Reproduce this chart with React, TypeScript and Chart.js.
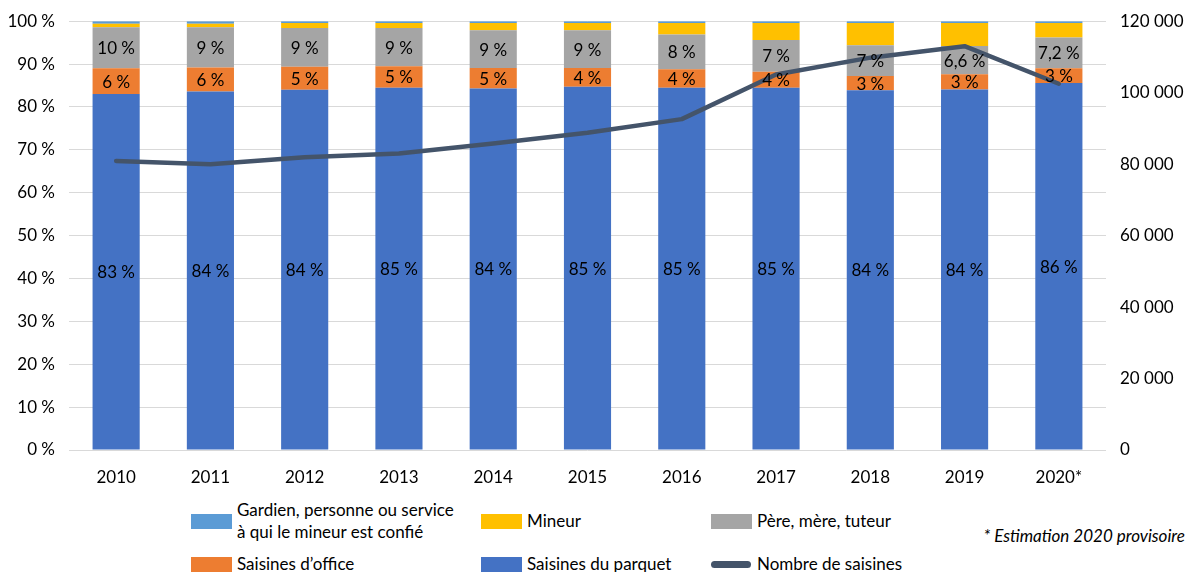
import React, { useEffect, useRef } from "react";
import { Chart, registerables } from "chart.js";

Chart.register(...registerables);

const years = ["2010", "2011", "2012", "2013", "2014", "2015", "2016", "2017", "2018", "2019", "2020*"];

// Percent shares (stack bottom to top)
const parquet = [83.0, 83.6, 84.0, 84.5, 84.3, 84.7, 84.5, 84.5, 83.9, 84.1, 85.6];
const office = [6.0, 5.6, 5.4, 5.0, 4.8, 4.4, 4.3, 3.7, 3.3, 3.5, 3.4];
const parents = [9.6, 9.4, 9.0, 8.9, 8.8, 8.8, 8.1, 7.4, 7.2, 6.6, 7.2];
const mineur = [0.8, 0.8, 1.2, 1.2, 1.7, 1.7, 2.7, 4.0, 5.2, 5.4, 3.4];
const gardien = [0.6, 0.6, 0.4, 0.4, 0.4, 0.4, 0.4, 0.4, 0.4, 0.4, 0.4];

// Number of referrals (right axis)
const saisines = [80900, 80000, 81900, 83000, 85800, 88800, 92600, 105100, 109800, 113000, 102500];

// Data label texts
const parquetLabels = ["83 %", "84 %", "84 %", "85 %", "84 %", "85 %", "85 %", "85 %", "84 %", "84 %", "86 %"];
const officeLabels = ["6 %", "6 %", "5 %", "5 %", "5 %", "4 %", "4 %", "4 %", "3 %", "3 %", "3 %"];
const parentsLabels = ["10 %", "9 %", "9 %", "9 %", "9 %", "9 %", "8 %", "7 %", "7 %", "6,6 %", "7,2 %"];

const leftTicks = [0, 10, 20, 30, 40, 50, 60, 70, 80, 90, 100];
const rightTicks = [0, 20000, 40000, 60000, 80000, 100000, 120000];

const C_GARDIEN = "#5B9BD5";
const C_MINEUR = "#FFC000";
const C_PARENTS = "#A5A5A5";
const C_OFFICE = "#ED7D31";
const C_PARQUET = "#4472C4";
const C_LINE = "#44546A";

const FONT = "Lato, 'Noto Sans', sans-serif";
const FS = 17;

const fmtThousands = (v: number) => {
  const s = String(Math.round(v));
  return s.replace(/\B(?=(\d{3})+(?!\d))/g, " ");
};

const labelPlugin = {
  id: "segLabels",
  afterDatasetsDraw(chart: any) {
    const ctx = chart.ctx;
    ctx.save();
    ctx.font = `${FS}px ${FONT}`;
    ctx.fillStyle = "#000";
    ctx.textAlign = "center";
    ctx.textBaseline = "middle";
    chart.data.datasets.forEach((ds: any, di: number) => {
      if (!ds.segLabels) return;
      const meta = chart.getDatasetMeta(di);
      meta.data.forEach((el: any, i: number) => {
        const t = ds.segLabels[i];
        if (!t) return;
        const cy = (el.y + el.base) / 2;
        ctx.fillText(t, el.x, cy + 1);
      });
    });
    ctx.restore();
  },
};

function ChartView() {
  const ref = useRef<HTMLCanvasElement | null>(null);
  useEffect(() => {
    if (!ref.current) return;
    const barCommon = {
      type: "bar" as const,
      stack: "s",
      yAxisID: "y",
      order: 1,
      barPercentage: 0.5,
      categoryPercentage: 1,
      borderWidth: 0,
    };
    const chart = new Chart(ref.current, {
      type: "bar",
      data: {
        labels: years,
        datasets: [
          { ...barCommon, label: "Saisines du parquet", data: parquet, backgroundColor: C_PARQUET, segLabels: parquetLabels } as any,
          { ...barCommon, label: "Saisines d’office", data: office, backgroundColor: C_OFFICE, segLabels: officeLabels } as any,
          { ...barCommon, label: "Père, mère, tuteur", data: parents, backgroundColor: C_PARENTS, segLabels: parentsLabels } as any,
          { ...barCommon, label: "Mineur", data: mineur, backgroundColor: C_MINEUR } as any,
          {
            ...barCommon,
            label: "Gardien, personne ou service à qui le mineur est confié",
            data: gardien,
            backgroundColor: C_GARDIEN,
          } as any,
          {
            type: "line",
            label: "Nombre de saisines",
            data: saisines,
            yAxisID: "y1",
            order: 0,
            borderColor: C_LINE,
            backgroundColor: C_LINE,
            borderWidth: 4.5,
            pointRadius: 0,
            tension: 0,
            fill: false,
            borderCapStyle: "round",
            borderJoinStyle: "round",
          } as any,
        ],
      },
      options: {
        responsive: false,
        animation: false,
        devicePixelRatio: 1,
        layout: { padding: { top: 17, left: 0, right: 0, bottom: 0 } },
        plugins: {
          legend: { display: false },
          tooltip: { enabled: false },
        },
        scales: {
          x: {
            stacked: true,
            grid: { display: false },
            border: { display: false },
            ticks: {
              color: "#000",
              font: { family: FONT, size: FS },
              padding: 9,
              maxRotation: 0,
            },
            afterFit: (s: any) => {
              s.height = 40;
            },
          },
          y: {
            stacked: true,
            position: "left",
            min: 0,
            max: 100,
            afterBuildTicks: (s: any) => {
              s.ticks = leftTicks.map((v) => ({ value: v }));
            },
            grid: { color: "#D9D9D9", lineWidth: 1, drawTicks: false },
            border: { display: false },
            ticks: {
              color: "#000",
              font: { family: FONT, size: FS },
              padding: 14,
              callback: (v: any) => `${v} %`,
            },
            afterFit: (s: any) => {
              s.width = 69;
            },
          },
          y1: {
            stacked: false,
            position: "right",
            min: 0,
            max: 120000,
            afterBuildTicks: (s: any) => {
              s.ticks = rightTicks.map((v) => ({ value: v }));
            },
            grid: { display: false, drawTicks: false },
            border: { display: false },
            ticks: {
              color: "#000",
              font: { family: FONT, size: FS },
              padding: 14,
              callback: (v: any) => fmtThousands(Number(v)),
            },
            afterFit: (s: any) => {
              s.width = 82;
            },
          },
        },
      } as any,
      plugins: [labelPlugin],
    });
    return () => chart.destroy();
  }, []);
  return <canvas ref={ref} width={1188} height={493} style={{ display: "block" }} />;
}

type LegendItemProps = {
  left: number;
  top: number;
  color: string;
  kind: "box" | "line";
  lines: string[];
};

function LegendItem({ left, top, color, kind, lines }: LegendItemProps) {
  const lineH = 22;
  const textH = lines.length * lineH;
  return (
    <div style={{ position: "absolute", left, top, height: textH }}>
      {kind === "box" ? (
        <div
          style={{
            position: "absolute",
            left: 0,
            top: textH / 2 - 7,
            width: 41,
            height: 15,
            background: color,
          }}
        />
      ) : (
        <div
          style={{
            position: "absolute",
            left: 0,
            top: textH / 2 - 3,
            width: 40,
            height: 7,
            borderRadius: 4,
            background: color,
          }}
        />
      )}
      <div
        style={{
          position: "absolute",
          left: 46,
          top: 0,
          whiteSpace: "nowrap",
          fontSize: FS,
          lineHeight: `${lineH}px`,
          color: "#000",
        }}
      >
        {lines.map((l, i) => (
          <div key={i}>{l}</div>
        ))}
      </div>
    </div>
  );
}

export default function App() {
  return (
    <div
      style={{
        position: "fixed",
        left: 0,
        top: 0,
        width: 1188,
        height: 572,
        background: "#fff",
        overflow: "hidden",
        fontFamily: FONT,
      }}
    >
      <div style={{ position: "absolute", left: 0, top: -3 }}>
        <ChartView />
      </div>
      <LegendItem left={191} top={499} color={C_GARDIEN} kind="box" lines={["Gardien, personne ou service", "à qui le mineur est confié"]} />
      <LegendItem left={481} top={510} color={C_MINEUR} kind="box" lines={["Mineur"]} />
      <LegendItem left={711} top={510} color={C_PARENTS} kind="box" lines={["Père, mère, tuteur"]} />
      <LegendItem left={191} top={553} color={C_OFFICE} kind="box" lines={["Saisines d’office"]} />
      <LegendItem left={481} top={553} color={C_PARQUET} kind="box" lines={["Saisines du parquet"]} />
      <LegendItem left={711} top={553} color={C_LINE} kind="line" lines={["Nombre de saisines"]} />
      <div
        style={{
          position: "absolute",
          right: 3,
          top: 525,
          fontSize: FS,
          fontStyle: "italic",
          lineHeight: "22px",
          color: "#000",
          whiteSpace: "nowrap",
        }}
      >
        * Estimation 2020 provisoire
      </div>
    </div>
  );
}
